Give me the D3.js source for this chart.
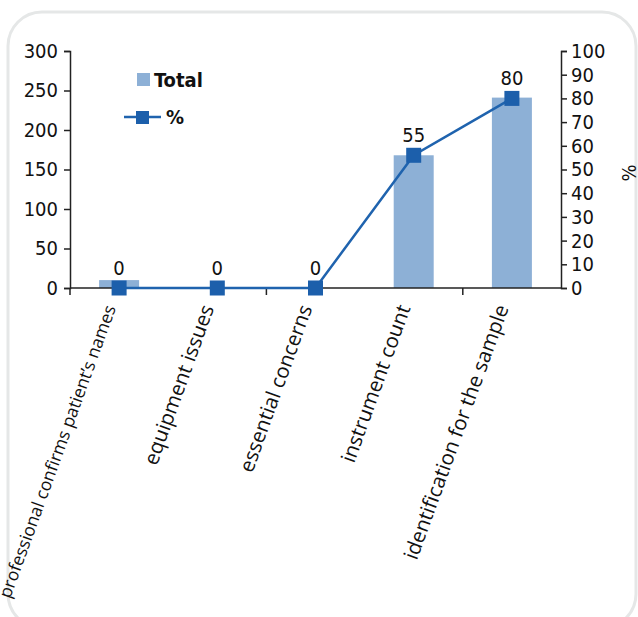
<!DOCTYPE html>
<html>
<head>
<meta charset="utf-8">
<script src="https://cdn.jsdelivr.net/npm/d3@7"></script>
<style>
  body { margin: 0; background: #fff; }
  .num { font-family: "DejaVu Sans Condensed", "DejaVu Sans", sans-serif; font-size: 20px; fill: #111; }
  .cat { font-family: "Open Sans", sans-serif; fill: #111; }
</style>
</head>
<body>
<div id="chart"></div>
<script>
var W = 638, H = 617;
var categories = ["professional confirms patient\u2019s names", "equipment issues", "essential concerns", "instrument count", "identification for the sample"];
var totals = [10, 0, 0, 168, 241];
var pct = [0, 0, 0, 56, 80];
var pctLabels = ["0", "0", "0", "55", "80"];
var leftTicks = [0, 50, 100, 150, 200, 250, 300];
var rightTicks = [0, 10, 20, 30, 40, 50, 60, 70, 80, 90, 100];

var mLeft = 70, mRight = 561, mTop = 51, mBottom = 288;

var svg = d3.select("#chart").append("svg")
    .attr("width", W)
    .attr("height", H);

// rounded frame (bottom edge falls outside the picture)
svg.append("rect")
    .attr("x", 8).attr("y", 12)
    .attr("width", 628).attr("height", 616)
    .attr("rx", 34)
    .attr("fill", "none")
    .attr("stroke", "#e5e7e7")
    .attr("stroke-width", 3);

var x = d3.scaleBand().domain(categories).range([mLeft, mRight]);
var yL = d3.scaleLinear().domain([0, 300]).range([mBottom, mTop]);
var yR = d3.scaleLinear().domain([0, 100]).range([mBottom, mTop]);

// bars
svg.selectAll("rect.bar")
    .data(totals)
    .enter()
    .append("rect")
    .attr("class", "bar")
    .attr("x", function(d, i) { return x(categories[i]) + x.bandwidth() / 2 - 20; })
    .attr("y", function(d) { return yL(d); })
    .attr("width", 40)
    .attr("height", function(d) { return mBottom - yL(d); })
    .attr("fill", "#8db0d6");

// left axis
var gL = svg.append("g")
    .attr("transform", "translate(" + mLeft + ",0)")
    .call(d3.axisLeft(yL).tickValues(leftTicks).tickSize(6).tickPadding(6));
gL.selectAll("text").attr("class", "num").attr("font-size", null).attr("font-family", null);

// right axis
var gR = svg.append("g")
    .attr("transform", "translate(" + mRight + ",0)")
    .call(d3.axisRight(yR).tickValues(rightTicks).tickSize(6).tickPadding(4));
gR.selectAll("text").attr("class", "num").attr("font-size", null).attr("font-family", null);

[gL, gR].forEach(function(g) {
  g.select(".domain").attr("stroke", "#222").attr("stroke-width", 1.5);
  g.selectAll(".tick line").attr("stroke", "#222").attr("stroke-width", 1.5);
});

// x axis line with ticks every 2 categories
svg.append("line")
    .attr("x1", mLeft).attr("x2", mRight)
    .attr("y1", mBottom).attr("y2", mBottom)
    .attr("stroke", "#222").attr("stroke-width", 1.5);
[mLeft, x(categories[2]), x(categories[4])].forEach(function(tx) {
  svg.append("line")
      .attr("x1", tx).attr("x2", tx)
      .attr("y1", mBottom).attr("y2", mBottom + 7)
      .attr("stroke", "#222").attr("stroke-width", 1.5);
});

// category labels
svg.selectAll("text.cat")
    .data(categories)
    .enter()
    .append("text")
    .attr("class", "cat")
    .attr("font-size", function(d, i) { return i === 0 ? 17.5 : 20.5; })
    .attr("text-anchor", "end")
    .attr("transform", function(d) {
      return "translate(" + (x(d) + x.bandwidth() / 2 - 3) + "," + (mBottom + 20) + ") rotate(-70)";
    })
    .text(function(d) { return d; });

// percent line
var cx = function(d, i) { return x(categories[i]) + x.bandwidth() / 2; };
var line = d3.line()
    .x(function(d, i) { return cx(d, i); })
    .y(function(d) { return yR(d); });
svg.append("path")
    .datum(pct)
    .attr("d", line)
    .attr("fill", "none")
    .attr("stroke", "#1f63ae")
    .attr("stroke-width", 2.5);

svg.selectAll("rect.marker")
    .data(pct)
    .enter()
    .append("rect")
    .attr("class", "marker")
    .attr("x", function(d, i) { return cx(d, i) - 7.5; })
    .attr("y", function(d) { return yR(d) - 7.5; })
    .attr("width", 15).attr("height", 15)
    .attr("fill", "#1c5fab");

svg.selectAll("text.lbl")
    .data(pct)
    .enter()
    .append("text")
    .attr("class", "num")
    .attr("text-anchor", "middle")
    .attr("x", function(d, i) { return cx(d, i); })
    .attr("y", function(d) { return yR(d) - 13; })
    .text(function(d, i) { return pctLabels[i]; });

// right axis title
svg.append("text")
    .attr("class", "num")
    .attr("text-anchor", "middle")
    .attr("transform", "translate(636,173) rotate(-90)")
    .text("%");

// legend
svg.append("rect")
    .attr("x", 137).attr("y", 73).attr("width", 13).attr("height", 13)
    .attr("fill", "#8db0d6");
svg.append("text")
    .attr("class", "num").attr("font-weight", "bold")
    .attr("x", 154).attr("y", 87)
    .text("Total");
svg.append("line")
    .attr("x1", 124).attr("x2", 161).attr("y1", 117).attr("y2", 117)
    .attr("stroke", "#1f63ae").attr("stroke-width", 2.5);
svg.append("rect")
    .attr("x", 136).attr("y", 111).attr("width", 13).attr("height", 13)
    .attr("fill", "#1c5fab");
svg.append("text")
    .attr("class", "num").attr("font-weight", "bold")
    .attr("x", 166).attr("y", 124)
    .text("%");
</script>
</body>
</html>
